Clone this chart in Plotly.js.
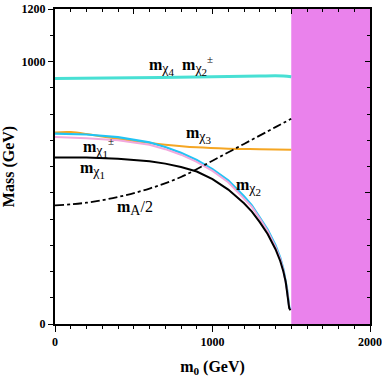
<!DOCTYPE html>
<html>
<head>
<meta charset="utf-8">
<script src="https://cdn.plot.ly/plotly-3.0.1.min.js"></script>
<style>
  html, body { margin: 0; padding: 0; background: #fff; }
  #plot { width: 382px; height: 382px; }
</style>
</head>
<body>
<div id="plot"></div>
<script>
// m0 grid for the light states (curves end near the boundary at 1500)
var m0Light = [0, 200, 400, 500, 600, 700, 800, 900, 1000, 1100, 1200, 1250, 1300, 1350, 1400, 1430, 1450, 1465, 1475, 1482, 1487, 1495];
var mChi1 = [634, 634, 630, 626, 620, 611, 598, 581, 552, 512, 460, 428, 388, 343, 285, 240, 200, 160, 120, 85, 60, 52];
var mChi1pm = [712, 708, 700, 692, 683, 666, 645, 618, 583, 540, 480, 446, 402, 354, 294, 248, 205, 164, 124, 88, 63, 54];
var mChi2 = [725, 722, 712, 703, 692, 674, 652, 625, 590, 547, 487, 452, 408, 360, 300, 253, 210, 168, 128, 91, 66, 56];

var m0Chi3 = [0, 100, 200, 300, 500, 700, 900, 1100, 1300, 1500];
var mChi3 = [730, 731, 724, 714, 697, 683, 673, 668, 666, 664];

var m0Heavy = [0, 500, 1000, 1300, 1450, 1500];
var mChi4 = [935, 938, 942, 945, 945, 942];

var m0A = [0, 200, 400, 600, 800, 1000, 1200, 1400, 1500];
var mAhalf = [452, 462, 484, 516, 560, 622, 686, 750, 782];

// excluded region
var exclX = [1500, 2000];
var exclTop = 1200;

var xTicks = [0, 1000, 2000];
var yTicks = [0, 1000, 1200];

var serif = 'Liberation Serif, Times New Roman, serif';

var data = [
  {x: [exclX[0], exclX[1], exclX[1], exclX[0], exclX[0]], y: [0, 0, exclTop, exclTop, 0],
   mode: 'lines', fill: 'toself', fillcolor: '#ea82ec', line: {width: 0}, hoverinfo: 'skip'},
  {x: m0Heavy, y: mChi4, mode: 'lines', line: {color: '#48e0d4', width: 3, shape: 'spline'}},
  {x: m0Chi3, y: mChi3, mode: 'lines', line: {color: '#f5a623', width: 2, shape: 'spline'}},
  {x: m0Light, y: mChi2, mode: 'lines', line: {color: '#22c4f4', width: 2.2}},
  {x: m0Light, y: mChi1pm, mode: 'lines', line: {color: '#f2a8dc', width: 2}},
  {x: m0Light, y: mChi1, mode: 'lines', line: {color: '#000000', width: 2}},
  {x: m0A, y: mAhalf, mode: 'lines', line: {color: '#000000', width: 1.8, dash: 'dashdot', shape: 'spline'}},
  // empty trace so the top/right frame axes get drawn
  {x: [null], y: [null], xaxis: 'x2', yaxis: 'y2', mode: 'lines'}
];
data.forEach(function (t) { t.showlegend = false; });

// "m" bold with a chi subscript and an index under it
function chi(idx, sup) {
  var s = '<b>m</b><sub><span style="font-size:14px">χ<sub><span style="font-size:11px">' + idx + '</span></sub></span></sub>';
  if (sup) s += '<sup><span style="font-size:11px">±</span></sup>';
  return s;
}

function lab(x, y, text) {
  return {x: x, y: y, text: text, showarrow: false, xanchor: 'center', yanchor: 'middle',
          font: {family: serif, size: 16, color: '#000'}};
}

var tickFont = {family: serif, size: 12, color: '#000', weight: 'bold'};

var layout = {
  width: 382, height: 382,
  margin: {l: 55, r: 12, t: 9, b: 58},
  paper_bgcolor: '#fff', plot_bgcolor: '#fff',
  showlegend: false,
  xaxis: {
    range: [0, 2000], tickvals: xTicks, ticktext: ['0', '1000', '2000'],
    ticks: 'outside', ticklen: 6, tickwidth: 1, tickcolor: '#000',
    minor: {dtick: 100, ticks: 'outside', ticklen: 3, tickcolor: '#000'},
    showline: true, linewidth: 2, linecolor: '#000',
    showgrid: false, zeroline: false, tickfont: tickFont,
    title: {text: '<b>m<sub>0</sub> (GeV)</b>', font: {family: serif, size: 16, color: '#000'}, standoff: 12}
  },
  yaxis: {
    range: [0, 1200], tickvals: yTicks, ticktext: ['0', '1000', '1200'],
    ticks: 'outside', ticklen: 5, tickwidth: 1, tickcolor: '#000',
    minor: {dtick: 100, ticks: 'outside', ticklen: 3, tickcolor: '#000'},
    showline: true, linewidth: 2, linecolor: '#000',
    showgrid: false, zeroline: false, tickfont: tickFont,
    title: {text: '<b>Mass (GeV)</b>', font: {family: serif, size: 16, color: '#000'}, standoff: 6}
  },
  xaxis2: {
    overlaying: 'x', side: 'top', anchor: 'y2', range: [0, 2000],
    dtick: 500, ticks: 'inside', ticklen: 5, tickcolor: '#000',
    minor: {dtick: 100, ticks: 'inside', ticklen: 3, tickcolor: '#000'},
    showticklabels: false, showline: true, linewidth: 2, linecolor: '#000',
    showgrid: false, zeroline: false
  },
  yaxis2: {
    overlaying: 'y', side: 'right', anchor: 'x2', range: [0, 1200],
    dtick: 500, ticks: 'inside', ticklen: 5, tickcolor: '#000',
    minor: {dtick: 100, ticks: 'inside', ticklen: 3, tickcolor: '#000'},
    showticklabels: false, showline: true, linewidth: 2, linecolor: '#000',
    showgrid: false, zeroline: false
  },
  annotations: [
    lab(800, 985, chi(4) + '  ' + chi(2, true)),
    lab(917, 721, chi(3)),
    lab(276, 672, chi(1, true)),
    lab(238, 588, chi(1)),
    lab(505, 443, '<b>m</b><sub><span style="font-size:14px">A</span></sub>/2'),
    lab(1229, 523, chi(2))
  ]
};

Plotly.newPlot('plot', data, layout, {staticPlot: true});
</script>
</body>
</html>
